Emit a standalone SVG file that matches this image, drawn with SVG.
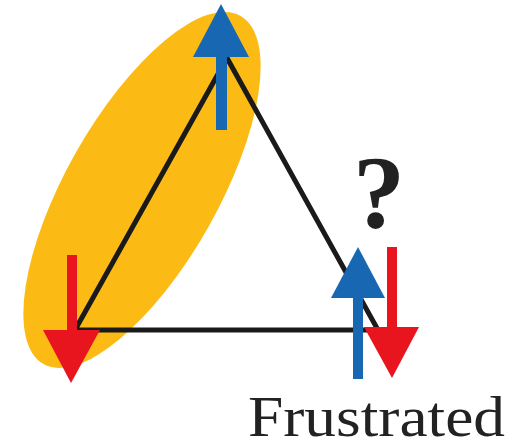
<svg xmlns="http://www.w3.org/2000/svg" width="531" height="441" viewBox="0 0 531 441">
<style>
.edge{stroke:#1a1a1a;stroke-width:5;fill:none;stroke-linejoin:miter}
.blue{fill:#1767b3}
.red{fill:#e8151f}
.lbl{font-family:"Liberation Serif",serif;fill:#222}
</style>
<rect width="531" height="441" fill="#fff"/>
<g id="cluster">
<ellipse cx="142" cy="190" rx="200" ry="76" transform="rotate(-60.5 142 190)" fill="#fcbb14"/>
</g>
<g id="connectors">
<polyline class="edge" points="75,330 227,58 378,330 75,330"/>
</g>
<g id="spin-top">
<rect class="blue" x="216" y="50" width="11" height="80"/>
<polygon class="blue" points="221,4 249,57 193,57"/>
</g>
<g id="spin-left">
<rect class="red" x="67" y="255" width="10" height="80"/>
<polygon class="red" points="43,330 100,330 71,383"/>
</g>
<g id="spin-right">
<rect class="blue" x="353" y="290" width="10" height="89"/>
<polygon class="blue" points="358,247 385,298 331,298"/>
<rect class="red" x="387" y="247" width="10" height="85"/>
<polygon class="red" points="364,327 419,327 392,378"/>
</g>
<g id="labels">
<text class="lbl" x="379" y="228" font-size="104" font-weight="bold" text-anchor="middle">?</text>
<text class="lbl" x="248" y="436" font-size="56" textLength="257" lengthAdjust="spacingAndGlyphs">Frustrated</text>
</g>
</svg>
